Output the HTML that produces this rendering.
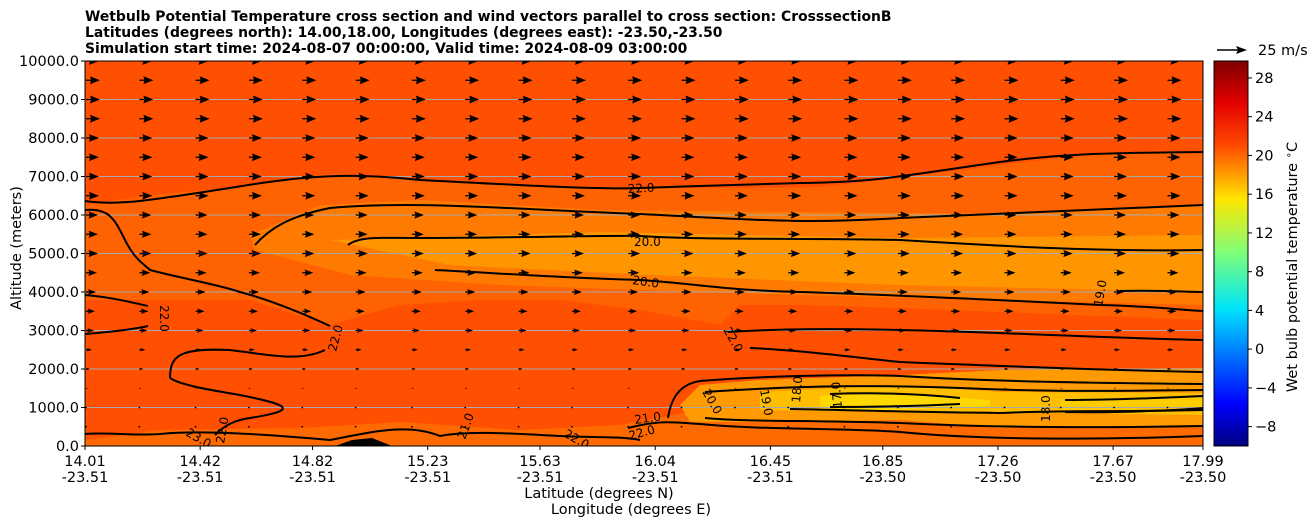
<!DOCTYPE html>
<html><head><meta charset="utf-8">
<style>
body{margin:0;background:#fff;font-family:"Liberation Sans","DejaVu Sans",sans-serif;}
svg text{font-family:"DejaVu Sans","Liberation Sans",sans-serif;}
</style></head>
<body>
<svg id="chart" width="1311" height="526" viewBox="0 0 1311 526" xmlns="http://www.w3.org/2000/svg">
<defs>
<linearGradient id="jet" x1="0" y1="1" x2="0" y2="0">
<stop offset="0" stop-color="#00007f"/>
<stop offset="0.11" stop-color="#0000ff"/>
<stop offset="0.34" stop-color="#00d4ff"/>
<stop offset="0.36" stop-color="#00e5f5"/>
<stop offset="0.5" stop-color="#7dff7a"/>
<stop offset="0.64" stop-color="#ffe600"/>
<stop offset="0.78" stop-color="#ff4a00"/>
<stop offset="0.89" stop-color="#e50000"/>
<stop offset="1" stop-color="#7f0000"/>
</linearGradient>
<clipPath id="plotclip"><rect x="85" y="61" width="1118" height="385"/></clipPath>
</defs>
<g font-weight="bold" font-size="13.9" fill="#000">
<text x="85" y="21">Wetbulb Potential Temperature cross section and wind vectors parallel to cross section: CrosssectionB</text>
<text x="85" y="37">Latitudes (degrees north): 14.00,18.00, Longitudes (degrees east): -23.50,-23.50</text>
<text x="85" y="53">Simulation start time: 2024-08-07 00:00:00, Valid time: 2024-08-09 03:00:00</text>
</g>
<g clip-path="url(#plotclip)">
<rect x="85" y="61" width="1118" height="385" fill="#ff4f00"/>
<polygon fill="#ff6200" points="85,205 150,195 230,188 330,174 420,180 520,185 640,188 720,188 820,187 900,178 1000,165 1100,153 1203,152 1203,320 1100,316 1000,312 900,308 800,305 740,305 720,325 640,310 560,300 480,300 400,305 330,325 250,300 150,300 85,300"/>
<polygon fill="#ff7a00" points="250,235 320,205 420,200 600,210 800,212 1000,214 1203,205 1203,305 1000,300 800,295 640,290 500,285 350,275 255,250"/>
<polygon fill="#ff9600" points="330,240 600,232 900,238 1203,235 1203,292 900,285 650,275 450,265"/>
<polygon fill="#ff6a00" points="85,440 160,430 300,428 400,422 520,430 620,425 700,410 750,395 1203,395 1203,446 85,446"/>
<polygon fill="#ff9a00" points="680,405 700,385 760,380 900,375 1000,370 1203,368 1203,425 1000,428 900,420 760,422 690,422"/>
<polygon fill="#ffbe00" points="760,392 900,385 1000,392 1203,393 1203,415 1000,412 900,412 760,410"/>
<polygon fill="#ffd800" points="820,396 900,393 990,400 990,406 900,410 820,410"/>
<polygon fill="#ffcc00" points="1060,399 1203,397 1203,408 1060,410"/>
<polygon fill="#000" points="335,446 352,440 372,438 392,446"/>
<g id="grid"></g>
<g id="arrows"></g>
<g fill="none" stroke="#000" stroke-width="2">
<path d="M85,201 C120,206 150,200 230,188 C300,176 350,172 420,180 C500,184 600,190 640,188 C700,186 720,185 800,183 C880,182 900,176 1000,162 C1060,154 1100,153 1203,152"/>
<path d="M85,210 C110,208 115,220 125,240 C135,260 145,265 150,270 C180,278 220,285 240,292 C270,300 300,312 330,326"/>
<path d="M255,245 C270,228 290,216 330,208 C420,200 520,210 640,214 C760,220 800,224 900,218 C1000,214 1100,210 1203,205"/>
<path d="M348,245 C360,236 380,238 420,238 C520,238 600,235 640,236 C700,240 800,238 900,240 C1000,246 1100,252 1203,250"/>
<path d="M435,270 C480,272 560,278 640,280 C700,284 720,290 800,292 C900,295 1000,300 1100,305 C1150,306 1180,310 1203,311"/>
<path d="M1120,291 C1160,290 1190,292 1203,292"/>
<path d="M85,334 C110,332 130,330 148,326"/>
<path d="M85,295 C110,297 130,302 148,306"/>
<path d="M170,378 C170,355 180,348 230,350 C270,355 300,362 325,350"/>
<path d="M170,378 C180,385 210,390 240,395 C290,405 300,410 250,418 C235,420 225,425 215,435"/>
<path d="M728,332 C760,330 800,328 900,330 C1000,332 1100,338 1203,340"/>
<path d="M750,348 C800,350 860,358 900,362 C1000,366 1100,370 1203,372"/>
<path d="M668,418 C670,405 675,385 700,381 C760,376 850,374 900,376 C1000,382 1100,383 1203,384"/>
<path d="M705,392 C780,387 850,384 960,388 C1050,392 1100,391 1203,390"/>
<path d="M830,394 C880,392 920,394 960,398"/>
<path d="M830,407 C880,407 920,406 960,404"/>
<path d="M790,409 C850,410 900,412 1000,413 C1060,410 1120,412 1203,410"/>
<path d="M1065,400 C1120,400 1180,397 1203,396"/>
<path d="M1065,412 C1120,413 1180,410 1203,408"/>
<path d="M705,418 C750,422 800,420 900,423 C1000,428 1100,428 1203,426"/>
<path d="M628,428 C660,420 670,422 700,424 C760,430 850,428 900,432 C980,440 1100,440 1203,436"/>
<path d="M85,434 C110,432 130,436 160,434 C200,430 260,434 330,440 C380,430 410,424 440,436 C470,430 520,434 560,436 C600,438 620,436 640,440"/>
</g>
<g font-size="12" fill="#000">
<text x="628" y="193" transform="rotate(-3 628 193)">22.0</text>
<text x="634" y="246">20.0</text>
<text x="632" y="284" transform="rotate(8 632 284)">20.0</text>
<text x="160" y="305" transform="rotate(90 160 305)">22.0</text>
<text x="336" y="352" transform="rotate(-75 336 352)">22.0</text>
<text x="723" y="330" transform="rotate(60 723 330)">22.0</text>
<text x="1102" y="307" transform="rotate(-80 1102 307)">19.0</text>
<text x="702" y="392" transform="rotate(60 702 392)">20.0</text>
<text x="760" y="390" transform="rotate(80 760 390)">19.0</text>
<text x="800" y="403" transform="rotate(-85 800 403)">18.0</text>
<text x="842" y="408" transform="rotate(-95 842 408)">17.0</text>
<text x="1050" y="422" transform="rotate(-90 1050 422)">18.0</text>
<text x="635" y="424" transform="rotate(-8 635 424)">21.0</text>
<text x="630" y="440" transform="rotate(-15 630 440)">22.0</text>
<text x="563" y="436" transform="rotate(30 563 436)">22.0</text>
<text x="465" y="440" transform="rotate(-70 465 440)">21.0</text>
<text x="185" y="435" transform="rotate(30 185 435)">23.0</text>
<text x="224" y="444" transform="rotate(-80 224 444)">22.0</text>
</g>
</g>
<rect x="85" y="61" width="1118" height="385" fill="none" stroke="#000" stroke-width="1"/>
<g id="yaxis" font-size="14.5"></g>
<g id="xaxis" font-size="14.5"></g>
<text x="21" y="248" font-size="14.5" text-anchor="middle" transform="rotate(-90 21 248)">Altitude (meters)</text>
<text x="599" y="498" font-size="14.5" text-anchor="middle">Latitude (degrees N)</text>
<text x="631" y="514" font-size="14.5" text-anchor="middle">Longitude (degrees E)</text>
<rect x="1214" y="61" width="34" height="385" fill="url(#jet)" stroke="#000" stroke-width="1"/>
<g id="cbar" font-size="14.5"></g>
<text x="1297" y="267" font-size="14.5" text-anchor="middle" transform="rotate(-90 1297 267)">Wet bulb potential temperature <tspan baseline-shift="super" font-size="10">∘</tspan>C</text>
<g>
<line x1="1217" y1="50" x2="1238" y2="50" stroke="#000" stroke-width="1.6"/>
<polygon points="1247,50 1236,46 1238,50 1236,54" fill="#000"/>
<text x="1258" y="55" font-size="14.5">25 m/s</text>
</g>
</svg>
<script>
const yTicks=[0,1000,2000,3000,4000,5000,6000,7000,8000,9000,10000];
const latTicks=[14.01,14.42,14.82,15.23,15.63,16.04,16.45,16.85,17.26,17.67,17.99];
const lonTicks=["-23.51","-23.51","-23.51","-23.51","-23.51","-23.51","-23.51","-23.50","-23.50","-23.50","-23.50"];
const cbarTicks=[-8,-4,0,4,8,12,16,20,24,28];
const windAlt=[10000,9500,9000,8500,8000,7500,7000,6500,6000,5500,5000,4500,4000,3500,3000,2500,2000,1500,1000,500,0];
const windSpeed=[13,14,14,14,13,13,13,13,12,12,12,11,10,9,8,6,4,2,1,0.5,0];
const windLat=[14.01,14.2,14.4,14.59,14.78,14.97,15.17,15.36,15.55,15.74,15.94,16.13,16.32,16.51,16.71,16.9,17.09,17.28,17.48,17.67,17.86];
const NS='http://www.w3.org/2000/svg';
const X0=85,X1=1203,Y0=446,Y1=61;
const xs=lat=>X0+(lat-14.01)/(17.99-14.01)*(X1-X0);
const ys=a=>Y0-a/10000*(Y0-Y1);
const cs=v=>446-(v+10)/(39.75)*385;
function mk(tag,attrs,parent){const e=document.createElementNS(NS,tag);for(const k in attrs)e.setAttribute(k,attrs[k]);parent.appendChild(e);return e;}
const grid=document.getElementById('grid'),yax=document.getElementById('yaxis'),xax=document.getElementById('xaxis'),cb=document.getElementById('cbar'),ar=document.getElementById('arrows');
yTicks.forEach(v=>{const y=ys(v);
 if(v>0&&v<10000){const g=mk('line',{x1:X0,x2:X1,y1:y,y2:y,stroke:'#aaaaaa','stroke-width':1},grid);
 
 }
 mk('line',{x1:X0-4,x2:X0,y1:y,y2:y,stroke:'#000'},yax);
 const t=mk('text',{x:X0-6,y:y+5,'text-anchor':'end'},yax);t.textContent=v.toFixed(1);
 
 
});
latTicks.forEach((v,i)=>{const x=xs(v);
 mk('line',{x1:x,x2:x,y1:Y0,y2:Y0+4,stroke:'#000'},xax);
 const t=mk('text',{x:x,y:466,'text-anchor':'middle'},xax);t.textContent=v.toFixed(2);
 
 
 const t2=mk('text',{x:x,y:482,'text-anchor':'middle'},xax);t2.textContent=lonTicks[i];
 
 
});
cbarTicks.forEach(v=>{const y=cs(v);
 mk('line',{x1:1248,x2:1252,y1:y,y2:y,stroke:'#000'},cb);
 const t=mk('text',{x:1255,y:y+5},cb);t.textContent=(v<0?'\u2212'+(-v):v);
 
 
});
windAlt.forEach((a,r)=>{const y=ys(a),L=windSpeed[r];
 windLat.forEach(lat=>{const x=xs(lat)+1;
  if(L<=0.1)return;
  let el;
  if(L<2){el=mk('circle',{cx:x,cy:y,r:0.9,fill:'#000'},ar);}
  else{const h=Math.min(9,L*0.7),w=Math.min(4,L*0.3);
   el=mk('polygon',{points:`${x},${y-0.6} ${x+L-h},${y-0.6} ${x+L-h-1},${y-w} ${x+L},${y} ${x+L-h-1},${y+w} ${x+L-h},${y+0.6} ${x},${y+0.6}`,fill:'#000'},ar);}
  
  
 });
});
</script>
</body></html>
